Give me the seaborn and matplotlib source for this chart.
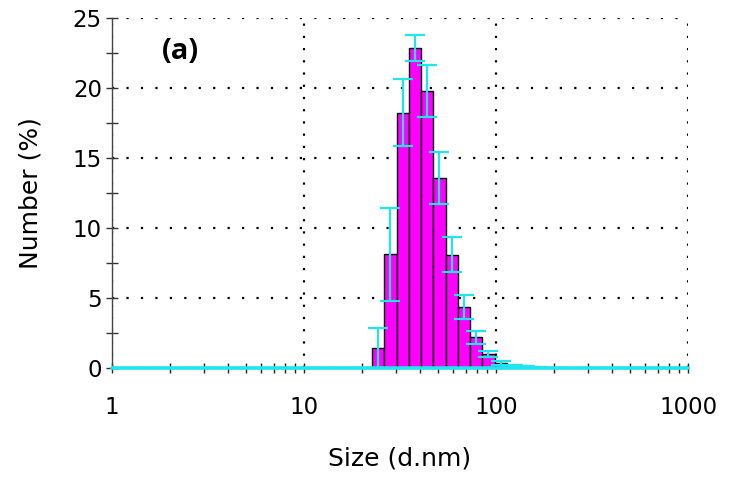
import numpy as np
import matplotlib
matplotlib.use("Agg")
import matplotlib.pyplot as plt
from matplotlib.ticker import FixedLocator, NullFormatter, LogLocator
import seaborn as sns

# ---- data ----
size_nm = [24.36, 28.21, 32.67, 37.84, 43.82, 50.75, 58.77, 68.06, 78.82,
           91.28, 105.7, 122.4, 141.8, 164.2]
number_pct = [1.43, 8.13, 18.24, 22.85, 19.8, 13.6, 8.1, 4.35, 2.18,
              1.02, 0.38, 0.18, 0.08, 0.03]
number_sd = [1.40, 3.33, 2.38, 0.92, 1.87, 1.85, 1.27, 0.83, 0.44,
             0.20, 0.13, 0.07, 0.04, 0.02]
x_ticks = [1, 10, 100, 1000]
x_tick_labels = ["1", "10", "100", "1000"]
y_ticks = [0, 5, 10, 15, 20, 25]
panel_label = "(a)"

MAGENTA = "#FF00FF"
CYAN = "#1FE6EE"

sns.set_style("white")
plt.rcParams["font.family"] = ["DejaVu Sans"]
plt.rcParams["text.color"] = "black"
plt.rcParams["axes.labelcolor"] = "black"
plt.rcParams["xtick.color"] = "black"
plt.rcParams["ytick.color"] = "black"

fig = plt.figure(figsize=(7.33, 4.83), dpi=100)
ax = fig.add_axes([112 / 733, 1 - 368 / 483, 576 / 733, 350 / 483])

# bin width of the instrument's logarithmic size classes (log10 units)
step = np.log10(size_nm[1] / size_nm[0])
lo = np.log10(size_nm[0]) - step / 2
hi = np.log10(size_nm[-1]) + step / 2

sns.histplot(x=size_nm, weights=number_pct, binwidth=step, binrange=(lo, hi),
             log_scale=True, color=MAGENTA, alpha=1, edgecolor="black",
             linewidth=1.0, ax=ax, zorder=2)

ax.errorbar(size_nm, number_pct, yerr=number_sd, fmt="none", ecolor=CYAN,
            elinewidth=1.6, capsize=7, capthick=1.6, zorder=4)
ax.axhline(0, color=CYAN, lw=2.6, zorder=5, clip_on=False)

ax.set_xscale("log")
ax.set_xlim(1, 1000)
ax.set_ylim(0, 25)

ax.xaxis.set_major_locator(FixedLocator(x_ticks))
ax.set_xticklabels(x_tick_labels)
ax.xaxis.set_minor_locator(LogLocator(base=10, subs=np.arange(2, 10)))
ax.xaxis.set_minor_formatter(NullFormatter())
ax.set_yticks(y_ticks)
ax.yaxis.set_minor_locator(FixedLocator([2.5, 7.5, 12.5, 17.5, 22.5]))

ax.tick_params(axis="x", which="both", bottom=True, direction="inout",
               length=6.5, width=1, color="#222222", labelsize=16.5, pad=17,
               labelcolor="black")
ax.tick_params(axis="y", which="both", left=True, direction="inout",
               length=8.5, width=1, color="#333333", labelsize=16.5, pad=3,
               labelcolor="black")
for t in ax.xaxis.get_major_ticks() + ax.xaxis.get_minor_ticks():
    t.tick1line.set_zorder(6)

ax.grid(False)
ax.yaxis.grid(True, which="major", color="black",
              linestyle=(0, (1, 5.5)), linewidth=1.6, zorder=0)
ax.xaxis.grid(True, which="major", color="black",
              linestyle=(0, (1, 4.5)), linewidth=1.6, zorder=0)
ax.set_axisbelow(True)

for s in ("top", "right"):
    ax.spines[s].set_visible(False)
ax.spines["left"].set_color("#444444")
ax.spines["left"].set_linewidth(1)
ax.spines["bottom"].set_color("#444444")

ax.set_xlabel("Size (d.nm)", fontsize=18, color="black")
ax.set_ylabel("Number (%)", fontsize=18, color="black")
ax.xaxis.set_label_coords(0.5, -0.225)
ax.yaxis.set_label_coords(-0.12, 0.5)

ax.text(0.118, 0.903, panel_label, transform=ax.transAxes, ha="center",
        va="center", fontsize=21, fontweight="bold", color="black",
        family=["Open Sans", "DejaVu Sans"])

fig.savefig("out.png", dpi=100)
